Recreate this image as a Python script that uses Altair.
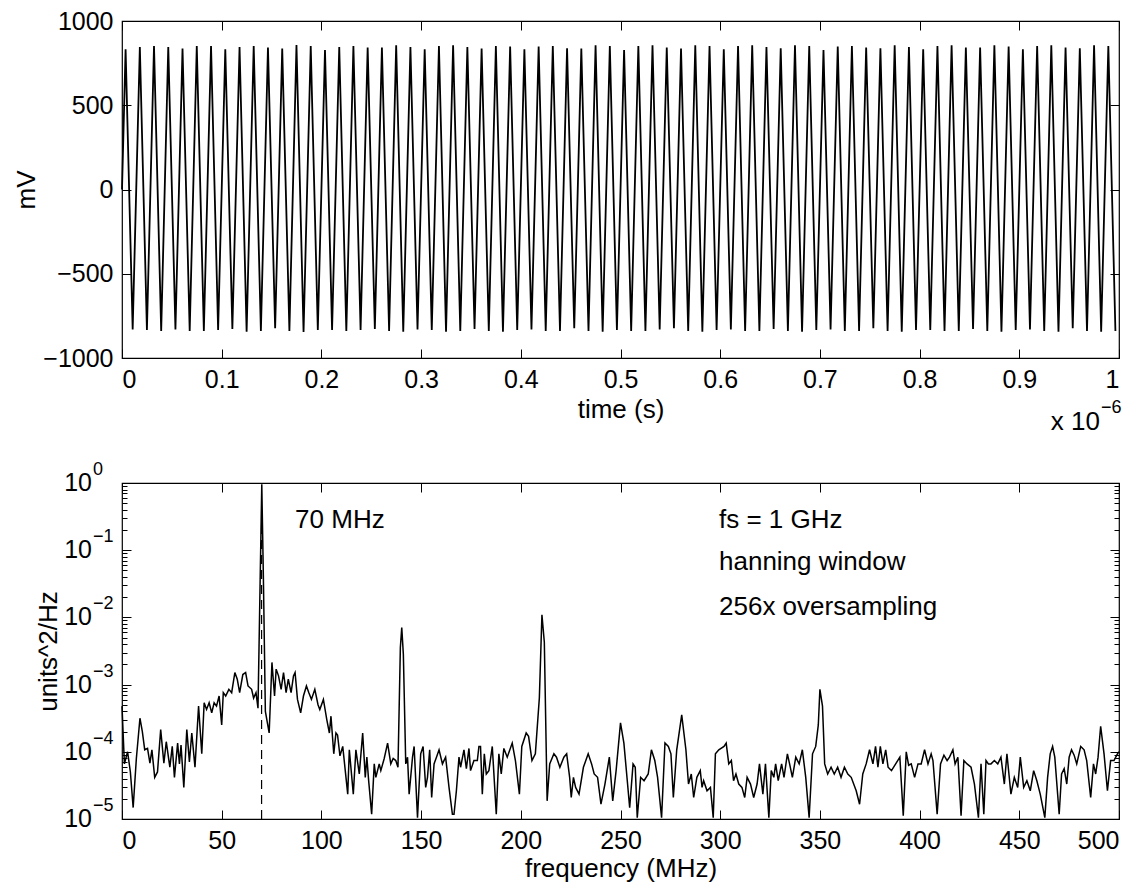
import altair as alt
import pandas as pd

FONT = "Liberation Sans"
BLACK = "#000000"

# ---------------- top panel: 70 MHz tone, extremes ----------------
start_time_us = [0.0]
start_mv = [0.0]

peak_time_us = [
    0.0036, 0.0179, 0.0321, 0.0464, 0.0607, 0.0750, 0.0893,
    0.1036, 0.1179, 0.1321, 0.1464, 0.1607, 0.1750, 0.1893,
    0.2036, 0.2179, 0.2321, 0.2464, 0.2607, 0.2750, 0.2893,
    0.3036, 0.3179, 0.3321, 0.3464, 0.3607, 0.3750, 0.3893,
    0.4036, 0.4179, 0.4321, 0.4464, 0.4607, 0.4750, 0.4893,
    0.5036, 0.5179, 0.5321, 0.5464, 0.5607, 0.5750, 0.5893,
    0.6036, 0.6179, 0.6321, 0.6464, 0.6607, 0.6750, 0.6893,
    0.7036, 0.7179, 0.7321, 0.7464, 0.7607, 0.7750, 0.7893,
    0.8036, 0.8179, 0.8321, 0.8464, 0.8607, 0.8750, 0.8893,
    0.9036, 0.9179, 0.9321, 0.9464, 0.9607, 0.9750, 0.9893,
]
peak_mv = [
    832, 846, 852, 846, 836, 852, 852, 832, 846, 852, 842, 836, 858, 852,
    828, 846, 852, 842, 842, 856, 846, 832, 852, 856, 846, 836, 852, 848,
    832, 848, 852, 838, 836, 856, 852, 828, 852, 856, 842, 836, 856, 852,
    832, 852, 856, 846, 838, 856, 852, 828, 848, 852, 842, 838, 856, 846,
    832, 852, 856, 842, 842, 856, 848, 832, 852, 856, 842, 838, 856, 852,
]
trough_time_us = [
    0.0107, 0.0250, 0.0393, 0.0536, 0.0679, 0.0821, 0.0964,
    0.1107, 0.1250, 0.1393, 0.1536, 0.1679, 0.1821, 0.1964,
    0.2107, 0.2250, 0.2393, 0.2536, 0.2679, 0.2821, 0.2964,
    0.3107, 0.3250, 0.3393, 0.3536, 0.3679, 0.3821, 0.3964,
    0.4107, 0.4250, 0.4393, 0.4536, 0.4679, 0.4821, 0.4964,
    0.5107, 0.5250, 0.5393, 0.5536, 0.5679, 0.5821, 0.5964,
    0.6107, 0.6250, 0.6393, 0.6536, 0.6679, 0.6821, 0.6964,
    0.7107, 0.7250, 0.7393, 0.7536, 0.7679, 0.7821, 0.7964,
    0.8107, 0.8250, 0.8393, 0.8536, 0.8679, 0.8821, 0.8964,
    0.9107, 0.9250, 0.9393, 0.9536, 0.9679, 0.9821, 0.9964,
]
trough_mv = [
    -830, -834, -840, -830, -840, -840, -834, -828, -844, -840, -824, -840, -846, -834,
    -834, -840, -834, -828, -840, -844, -830, -834, -844, -840, -828, -840, -844, -834,
    -830, -840, -840, -824, -840, -844, -834, -840, -840, -830, -824, -840, -844, -834,
    -830, -840, -840, -828, -840, -844, -834, -830, -840, -840, -824, -840, -844, -834,
    -834, -840, -840, -828, -840, -844, -834, -830, -840, -844, -824, -840, -844, -840,
]

time_ticks = [0, 0.1, 0.2, 0.3, 0.4, 0.5, 0.6, 0.7, 0.8, 0.9, 1]
mv_ticks = [-1000, -500, 0, 500, 1000]

# ---------------- bottom panel: spectrum ----------------
freq_mhz = [
    0.0, 1.2, 2.8, 4.2, 5.6, 7.2, 9.0, 10.2, 11.4, 12.8, 14.0, 15.0, 16.4, 17.8, 19.4,
    21.0, 22.2, 24.0, 25.2, 26.3, 27.9, 28.8, 29.6, 31.0, 32.5, 33.8, 35.0, 36.6, 38.4,
    40.0, 41.2, 42.4, 43.7, 45.0, 46.2, 47.4, 48.7, 50.0, 50.8, 52.0, 53.6, 55.0, 56.6,
    57.8, 59.0, 60.6, 62.0, 63.2, 65.0, 66.0, 67.2, 68.2, 69.2, 70.1, 70.9, 71.9, 73.8, 75.2, 76.5,
    77.3, 78.5, 79.8, 81.0, 82.3, 83.4, 84.8, 86.0, 86.8, 88.0, 89.6, 91.0, 92.5, 93.7,
    95.0, 96.7, 98.3, 99.2, 101.0, 102.7, 104.0, 104.8, 106.2, 107.3, 108.1, 109.3, 110.7,
    113.2, 114.0, 116.0, 117.3, 119.0, 120.7, 122.0, 122.8, 123.7, 125.2, 126.5, 127.3,
    129.0, 129.8, 131.5, 133.2, 134.8, 136.0, 137.3, 138.4, 139.6, 140.3, 141.1, 142.3, 143.2,
    144.0, 145.7, 146.5, 148.2, 149.8, 151.0, 152.3, 153.2, 154.3, 155.3, 156.5, 157.7,
    159.0, 160.7, 162.3, 164.0, 165.7, 166.5, 167.7, 169.0, 169.8, 171.5, 172.7, 174.0,
    174.8, 176.5, 178.2, 179.0, 179.8, 180.7, 181.7, 182.7, 184.0, 185.7, 187.7, 189.0,
    190.2, 191.5, 193.2, 195.7, 197.3, 199.3, 200.5, 202.7, 203.9, 205.6, 207.3, 209.3,
    210.6, 211.8, 213.2, 214.5, 216.6, 217.9, 219.6, 221.6, 223.0, 224.5, 225.3, 226.4,
    227.5, 229.2, 231.4, 233.8, 235.5, 236.8, 238.5, 240.2, 242.2, 244.4, 246.1, 247.8,
    250.0, 251.7, 253.4, 254.6, 256.3, 257.4, 258.4, 260.1, 261.8, 263.9, 265.5, 267.2,
    268.6, 270.6, 272.3, 274.0, 275.3, 276.5, 278.2, 280.7, 282.8, 284.1, 285.5, 286.7,
    288.3, 290.0, 290.9, 291.7, 293.4, 295.1, 296.5, 297.6, 299.3, 301.9, 303.0, 304.3,
    305.6, 306.7, 307.9, 309.3, 310.9, 312.3, 313.5, 315.2, 316.8, 318.5, 319.7, 321.4,
    322.7, 324.4, 325.6, 326.9, 327.8, 329.1, 330.8, 332.0, 333.7, 334.8, 336.2, 337.9,
    339.6, 341.2, 342.9, 344.6, 346.3, 347.9, 349.2, 350.0, 351.3, 352.4, 353.9, 355.6,
    357.2, 358.9, 360.6, 362.3, 364.0, 365.7, 368.2, 369.9, 371.5, 373.2, 374.9, 376.6,
    377.9, 379.1, 380.3, 381.6, 383.0, 384.2, 385.9, 388.0, 390.1, 391.8, 393.3, 394.5,
    395.8, 397.5, 399.2, 400.8, 402.5, 404.2, 405.8, 406.7, 408.8, 410.5, 412.2, 413.8,
    415.0, 416.7, 417.8, 419.2, 420.8, 422.2, 423.8, 425.8, 427.5, 429.5, 430.8, 432.2,
    433.3, 434.5, 435.8, 437.5, 439.2, 440.8, 442.5, 443.8, 445.8, 447.5, 449.2, 450.5,
    452.2, 453.8, 455.5, 457.2, 458.8, 460.5, 462.8, 464.2, 465.5, 466.7, 467.8, 470.0,
    471.2, 472.5, 473.8, 475.0, 476.2, 477.5, 478.8, 480.8, 482.5, 483.8, 485.8, 487.2,
    488.3, 489.5, 490.8, 492.5, 494.2, 495.8, 497.5, 499.2, 500.0,
]
psd_log10 = [
    -3.32, -4.18, -4.00, -4.30, -4.83, -4.10, -3.50, -3.70, -3.97, -3.95, -4.17, -3.97, -4.38, -4.30, -3.67,
    -4.17, -3.85, -4.23, -3.92, -4.38, -3.87, -4.18, -3.90, -4.53, -3.67, -4.15, -3.72, -4.23, -3.32,
    -4.03, -3.27, -3.37, -3.27, -3.42, -3.27, -3.32, -3.17, -3.60, -3.12, -3.17, -3.07, -3.12, -2.82,
    -2.92, -3.12, -2.85, -2.82, -3.02, -3.07, -3.20, -3.12, -3.35, -1.60, -0.02, -1.40, -3.40, -3.72, -2.67, -3.17,
    -2.77, -2.87, -3.07, -2.82, -3.12, -2.92, -3.12, -2.87, -2.82, -3.22, -3.42, -3.17, -3.02, -3.12,
    -3.22, -3.07, -3.30, -3.37, -3.22, -3.52, -3.72, -3.47, -4.03, -3.72, -3.75, -4.06, -3.92,
    -4.63, -3.97, -4.63, -3.97, -4.33, -3.72, -4.38, -4.08, -4.43, -4.93, -4.18, -4.38,
    -4.18, -4.28, -4.10, -3.87, -4.18, -4.10, -4.13, -4.23, -2.45, -2.15, -2.55, -4.18, -4.08,
    -4.63, -4.08, -3.92, -4.98, -4.03, -3.92, -4.53, -4.38, -3.97, -4.68, -4.18, -4.08,
    -3.97, -4.18, -4.08, -4.53, -4.93, -4.93, -4.58, -4.08, -4.23, -3.97, -4.25, -3.95,
    -4.28, -4.13, -4.13, -3.92, -3.92, -4.63, -4.03, -4.33, -4.28, -3.92, -4.93, -4.03,
    -4.33, -3.95, -4.08, -3.87, -4.13, -4.63, -3.92, -3.72, -3.77, -4.13, -4.03, -3.20,
    -1.96, -2.37, -4.73, -4.18, -4.03, -4.08, -4.23, -4.08, -4.03, -4.38, -4.68, -4.38,
    -4.53, -4.63, -4.23, -4.03, -4.18, -4.33, -4.38, -4.78, -4.48, -4.08, -4.73, -4.28,
    -3.57, -3.87, -4.43, -4.83, -4.18, -4.23, -4.98, -4.38, -4.43, -4.33, -3.97, -4.13,
    -4.38, -4.98, -3.87, -3.92, -4.03, -4.68, -3.97, -3.45, -3.97, -4.48, -4.33, -4.68,
    -4.38, -4.28, -4.53, -4.43, -4.58, -4.53, -4.98, -4.03, -3.97, -3.92, -3.87, -4.18,
    -4.13, -4.43, -4.33, -4.48, -4.53, -4.68, -4.38, -4.48, -4.68, -4.48, -4.18, -4.63,
    -4.18, -4.98, -4.28, -4.38, -4.18, -4.43, -4.18, -4.38, -4.03, -4.18, -4.38, -4.08,
    -4.18, -3.97, -4.38, -4.98, -4.03, -3.92, -3.60, -3.07, -3.32, -4.18, -4.33, -4.23,
    -4.33, -4.23, -4.38, -4.23, -4.33, -4.38, -4.58, -4.78, -4.33, -4.18, -3.97, -4.18,
    -3.92, -4.23, -3.92, -4.18, -3.97, -4.23, -4.28, -4.18, -4.08, -4.95, -4.00, -4.20,
    -4.18, -4.38, -4.18, -4.18, -3.97, -4.18, -4.03, -4.13, -4.93, -4.18, -4.05, -4.13,
    -4.08, -3.97, -4.18, -4.08, -4.95, -4.13, -4.18, -4.23, -4.48, -4.98, -4.18, -4.93,
    -4.13, -4.18, -4.18, -4.13, -4.18, -4.08, -4.48, -4.03, -4.63, -4.38, -4.53, -4.08,
    -4.53, -4.43, -4.58, -4.28, -4.43, -4.63, -4.98, -4.38, -4.03, -3.92, -4.08, -4.93,
    -4.33, -4.25, -4.48, -4.08, -3.97, -4.05, -4.18, -3.92, -3.97, -4.13, -4.68, -4.18,
    -4.33, -4.08, -3.62, -4.03, -4.58, -4.13, -4.13, -4.03, -4.00,
]

freq_ticks = [0, 50, 100, 150, 200, 250, 300, 350, 400, 450, 500]
decade_values = [1, 0.1, 0.01, 0.001, 0.0001, 0.00001]
decade_exponents = ["0", "\u22121", "\u22122", "\u22123", "\u22124", "\u22125"]
minor_values = [m * d for d in [0.00001, 0.0001, 0.001, 0.01, 0.1] for m in range(2, 10)]

tone_mhz = [70]
annot_text = ["70 MHz", "fs = 1 GHz", "hanning window", "256x oversampling"]
annot_mhz = [86.8, 299.4, 299.4, 299.4]
annot_log10 = [-0.55, -0.55, -1.18, -1.85]

# ---------------- build tables ----------------
pts = sorted(zip(start_time_us + peak_time_us + trough_time_us,
                 start_mv + peak_mv + trough_mv))
wave_df = pd.DataFrame({"t": [p[0] for p in pts], "mv": [p[1] for p in pts]})
spec_df = pd.DataFrame({"f": freq_mhz, "psd": [10 ** v for v in psd_log10]})


def ax(orient, values, size=9, labels=False, **kw):
    return alt.Axis(orient=orient, values=values, labels=labels, tickSize=size,
                    offset=-size, domain=False, grid=False, ticks=True,
                    tickColor=BLACK, tickWidth=1, **kw)


xs_top = alt.Scale(domain=[0, 1], nice=False, zero=False)
ys_top = alt.Scale(domain=[-1000, 1000], nice=False, zero=False)

top_line = alt.Chart(wave_df).mark_line(color=BLACK, strokeWidth=1.8).encode(
    x=alt.X("t:Q", scale=xs_top,
            axis=ax("bottom", time_ticks, labels=True, title="time (s)", format="~g",
                    labelPadding=9, titlePadding=4)),
    y=alt.Y("mv:Q", scale=ys_top,
            axis=ax("left", mv_ticks, labels=True, title="mV", format="d",
                    labelPadding=9, titlePadding=3)),
)
top_ticks = alt.Chart(wave_df).mark_line(opacity=0).encode(
    x=alt.X("t:Q", scale=xs_top, axis=ax("top", time_ticks, title=None)),
    y=alt.Y("mv:Q", scale=ys_top, axis=ax("right", mv_ticks, title=None)),
)
exp_df = pd.DataFrame({"t": [1.0], "mv": [-1000.0], "base": ["x 10"], "exp": ["\u22126"]})
top_base_txt = alt.Chart(exp_df).mark_text(
    align="right", baseline="middle", dx=-19, dy=64, fontSize=26, font=FONT, color=BLACK
).encode(x=alt.X("t:Q", scale=xs_top, axis=None), y=alt.Y("mv:Q", scale=ys_top, axis=None), text="base:N")
top_exp_txt = alt.Chart(exp_df).mark_text(
    align="left", baseline="middle", dx=-18, dy=50, fontSize=18, font=FONT, color=BLACK
).encode(x=alt.X("t:Q", scale=xs_top, axis=None), y=alt.Y("mv:Q", scale=ys_top, axis=None), text="exp:N")

top = alt.layer(top_line, top_ticks, top_base_txt, top_exp_txt).resolve_axis(
    x="independent", y="independent").properties(width=997, height=337)

xs_bot = alt.Scale(domain=[0, 500], nice=False, zero=False)
ys_bot = alt.Scale(type="log", domain=[0.00001, 1], nice=False)

bot_line = alt.Chart(spec_df).mark_line(color=BLACK, strokeWidth=1.5).encode(
    x=alt.X("f:Q", scale=xs_bot,
            axis=ax("bottom", freq_ticks, labels=True, title="frequency (MHz)", format="d",
                    labelPadding=9, titlePadding=2)),
    y=alt.Y("psd:Q", scale=ys_bot, axis=ax("left", decade_values, title="units^2/Hz", titlePadding=60)),
)
bot_ticks = alt.Chart(spec_df).mark_line(opacity=0).encode(
    x=alt.X("f:Q", scale=xs_bot, axis=ax("top", freq_ticks, title=None)),
    y=alt.Y("psd:Q", scale=ys_bot, axis=ax("right", decade_values, title=None)),
)
bot_minor_l = alt.Chart(spec_df).mark_line(opacity=0).encode(
    x=alt.X("f:Q", scale=xs_bot, axis=None),
    y=alt.Y("psd:Q", scale=ys_bot, axis=ax("left", minor_values, size=5, title=None)),
)
bot_minor_r = alt.Chart(spec_df).mark_line(opacity=0).encode(
    x=alt.X("f:Q", scale=xs_bot, axis=None),
    y=alt.Y("psd:Q", scale=ys_bot, axis=ax("right", minor_values, size=5, title=None)),
)
rule_df = pd.DataFrame({"f": tone_mhz, "lo": [0.00001], "hi": [0.45]})
bot_rule = alt.Chart(rule_df).mark_rule(color=BLACK, strokeWidth=1.2, strokeDash=[9, 6]).encode(
    x=alt.X("f:Q", scale=xs_bot, axis=None),
    y=alt.Y("lo:Q", scale=ys_bot, axis=None),
    y2="hi:Q",
)
ann_df = pd.DataFrame({"f": annot_mhz, "psd": [10 ** v for v in annot_log10], "label": annot_text})
bot_ann = alt.Chart(ann_df).mark_text(
    align="left", baseline="middle", fontSize=26, font=FONT, color=BLACK
).encode(x=alt.X("f:Q", scale=xs_bot, axis=None), y=alt.Y("psd:Q", scale=ys_bot, axis=None), text="label:N")

dec_df = pd.DataFrame({"f": [0] * len(decade_values), "psd": decade_values,
                       "base": ["10"] * len(decade_values), "exp": decade_exponents})
bot_ylab = alt.Chart(dec_df).mark_text(
    align="right", baseline="middle", dx=-30, fontSize=25, font=FONT, color=BLACK
).encode(x=alt.X("f:Q", scale=xs_bot, axis=None), y=alt.Y("psd:Q", scale=ys_bot, axis=None), text="base:N")
bot_yexp = alt.Chart(dec_df).mark_text(
    align="left", baseline="middle", dx=-29, dy=-13, fontSize=18, font=FONT, color=BLACK
).encode(x=alt.X("f:Q", scale=xs_bot, axis=None), y=alt.Y("psd:Q", scale=ys_bot, axis=None), text="exp:N")

bottom = alt.layer(bot_line, bot_ticks, bot_minor_l, bot_minor_r, bot_rule, bot_ann,
                   bot_ylab, bot_yexp).resolve_axis(
    x="independent", y="independent").properties(width=997, height=336)

chart = alt.vconcat(top, bottom, spacing=24).properties(
    padding={"left": 5, "top": 0, "right": 5, "bottom": 0},
    background="white",
).configure_view(stroke=BLACK, strokeWidth=1.2).configure_axis(
    labelFont=FONT, titleFont=FONT, labelFontSize=25, titleFontSize=26,
    labelColor=BLACK, titleColor=BLACK, titleFontWeight="normal",
)

chart.save("out.html", embed_options={"renderer": "svg", "actions": False})
